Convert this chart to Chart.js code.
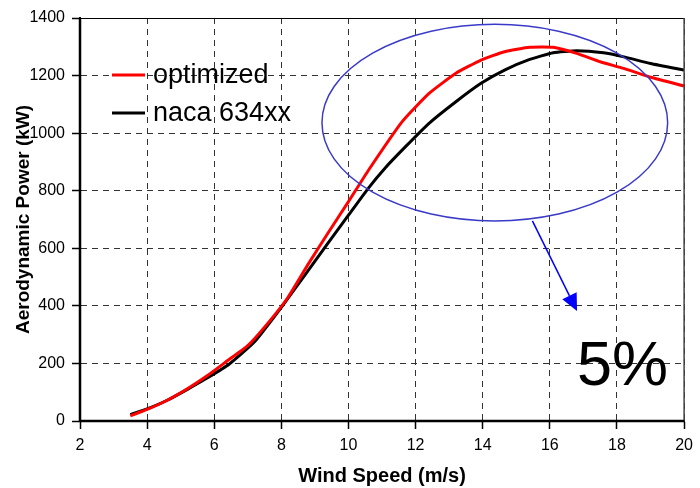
<!DOCTYPE html>
<html lang="en">
<head>
  <meta charset="UTF-8">
  <title>Aerodynamic Power vs Wind Speed</title>
  <script src="https://cdn.jsdelivr.net/npm/chart.js"></script>
  <style>
    html, body { margin: 0; padding: 0; background: #fff; }
  </style>
</head>
<body>

<canvas id="myChart" width="700" height="488"></canvas>

<script>
  // curves (wind speed m/s, power kW)
  const windOpt  = [3.5, 4.0, 4.6, 5.2, 5.8, 6.4, 7.0, 7.6, 8.2, 8.8, 9.4, 10.0, 10.6, 11.6, 12.4, 13.2, 13.95, 14.65, 15.4, 16.1, 16.8, 17.5, 18.2, 19.0, 20.0];
  const powerOpt = [18, 40, 72, 112, 158, 210, 262, 340, 430, 545, 655, 762, 872, 1040, 1138, 1208, 1254, 1283, 1298, 1298, 1277, 1248, 1225, 1194, 1164];

  const windNaca  = [3.5, 4.0, 4.6, 5.2, 5.8, 6.45, 7.2, 8.0, 8.7, 9.4, 10.0, 10.6, 11.1, 11.7, 12.4, 13.2, 13.95, 14.65, 15.4, 16.1, 16.8, 17.6, 18.2, 19.0, 20.0];
  const powerNaca = [22, 42, 72, 110, 150, 198, 275, 395, 507, 620, 715, 810, 880, 953, 1034, 1109, 1173, 1219, 1256, 1279, 1286, 1279, 1265, 1242, 1219];

  const seriesNames = ['optimized', 'naca 634xx'];
  const xTicks = [2, 4, 6, 8, 10, 12, 14, 16, 18, 20];
  const yTicks = [0, 200, 400, 600, 800, 1000, 1200, 1400];

  // annotation, in data units
  const ringWind  = [9.21, 19.51];
  const ringPower = [695, 1378];
  const arrowFrom = [15.48, 695];
  const arrowTo   = [16.81, 382];
  const noteAt    = [16.81, 125];
  const noteText  = '5%';

  const FONT = '"Liberation Sans", Arial, sans-serif';

  function pairs(xs, ys) {
    return xs.map((v, i) => ({x: v, y: ys[i]}));
  }

  const extras = {
    id: 'extras',
    afterDraw(chart) {
      const ctx = chart.ctx;
      const a = chart.chartArea;
      const x = chart.scales.x, y = chart.scales.y;
      ctx.save();
      ctx.setLineDash([]);

      // frame: thick left/bottom, thin top/right
      ctx.strokeStyle = '#000';
      ctx.lineWidth = 1;
      ctx.beginPath();
      ctx.moveTo(a.left, a.top + 0.5);
      ctx.lineTo(a.right, a.top + 0.5);
      ctx.stroke();
      ctx.strokeStyle = '#444';
      ctx.lineWidth = 1.5;
      ctx.beginPath();
      ctx.moveTo(a.right, a.top);
      ctx.lineTo(a.right, a.bottom);
      ctx.stroke();
      ctx.strokeStyle = '#000';
      ctx.lineWidth = 2.5;
      ctx.beginPath();
      ctx.moveTo(a.left, a.top);
      ctx.lineTo(a.left, a.bottom);
      ctx.lineTo(a.right, a.bottom);
      ctx.stroke();

      // legend inside plot
      chart.data.datasets.forEach((ds, i) => {
        const ly = a.top + 57 + i * 38;
        ctx.strokeStyle = ds.borderColor;
        ctx.lineWidth = 3;
        ctx.beginPath();
        ctx.moveTo(a.left + 32, ly);
        ctx.lineTo(a.left + 65, ly);
        ctx.stroke();
        ctx.fillStyle = '#000';
        ctx.font = '27px ' + FONT;
        ctx.textBaseline = 'middle';
        ctx.textAlign = 'left';
        ctx.fillText(ds.label, a.left + 73, ly + 1);
      });

      // ellipse
      const x0 = x.getPixelForValue(ringWind[0]), x1 = x.getPixelForValue(ringWind[1]);
      const y0 = y.getPixelForValue(ringPower[1]), y1 = y.getPixelForValue(ringPower[0]);
      ctx.strokeStyle = '#3a3ac8';
      ctx.lineWidth = 1.5;
      ctx.beginPath();
      ctx.ellipse((x0 + x1) / 2, (y0 + y1) / 2, (x1 - x0) / 2, (y1 - y0) / 2, 0, 0, Math.PI * 2);
      ctx.stroke();

      // arrow
      const ax = x.getPixelForValue(arrowFrom[0]), ay = y.getPixelForValue(arrowFrom[1]);
      const bx = x.getPixelForValue(arrowTo[0]),   by = y.getPixelForValue(arrowTo[1]);
      const ang = Math.atan2(by - ay, bx - ax);
      const hl = 17, hw = 8;
      const c = Math.cos(ang), s = Math.sin(ang);
      ctx.strokeStyle = '#0000ff';
      ctx.fillStyle = '#0000ff';
      ctx.lineWidth = 1.5;
      ctx.beginPath();
      ctx.moveTo(ax, ay);
      ctx.lineTo(bx - hl * c, by - hl * s);
      ctx.stroke();
      ctx.beginPath();
      ctx.moveTo(bx, by);
      ctx.lineTo(bx - hl * c + hw * s, by - hl * s - hw * c);
      ctx.lineTo(bx - hl * c - hw * s, by - hl * s + hw * c);
      ctx.closePath();
      ctx.fill();

      // 5% note
      ctx.fillStyle = '#000';
      ctx.font = '63px ' + FONT;
      ctx.textAlign = 'left';
      ctx.textBaseline = 'alphabetic';
      ctx.fillText(noteText, x.getPixelForValue(noteAt[0]), y.getPixelForValue(noteAt[1]));

      ctx.restore();
    }
  };

  const gridOpts = {
    color: '#333',
    lineWidth: 1,
    drawTicks: true,
    tickLength: 8,
    tickColor: '#000',
    tickWidth: 1.5,
    tickBorderDash: []
  };
  const borderOpts = {display: true, color: '#000', width: 2, dash: [6, 5]};
  const tickFont = {family: FONT, size: 16};

  const config = {
    type: 'line',
    data: {
      datasets: [
        {label: seriesNames[0], data: pairs(windOpt, powerOpt), borderColor: '#ff0000', borderWidth: 3, pointRadius: 0, tension: 0.15, fill: false},
        {label: seriesNames[1], data: pairs(windNaca, powerNaca), borderColor: '#000000', borderWidth: 3, pointRadius: 0, tension: 0.15, fill: false}
      ]
    },
    options: {
      responsive: false,
      animation: false,
      layout: {padding: {top: 18, right: 12, left: 0, bottom: 0}},
      plugins: {legend: {display: false}, tooltip: {enabled: false}},
      scales: {
        x: {
          type: 'linear',
          min: 2, max: 20,
          afterFit(s) { s.height = 67; },
          afterBuildTicks(s) { s.ticks = xTicks.map(v => ({value: v})); },
          grid: gridOpts,
          border: borderOpts,
          ticks: {color: '#000', padding: 7, font: tickFont, callback: v => String(v)},
          title: {display: true, text: 'Wind Speed (m/s)', color: '#000', padding: {top: 0, bottom: 0}, font: {family: FONT, size: 20, weight: 'bold'}}
        },
        y: {
          min: 0, max: 1400,
          afterFit(s) { s.width = 80; },
          afterBuildTicks(s) { s.ticks = yTicks.map(v => ({value: v})); },
          grid: gridOpts,
          border: borderOpts,
          ticks: {color: '#000', padding: 7, font: tickFont, callback: v => String(v)},
          title: {display: true, text: 'Aerodynamic Power (kW)', color: '#000', padding: {top: 12, bottom: 0}, font: {family: FONT, size: 19, weight: 'bold'}}
        }
      }
    },
    plugins: [extras]
  };

  const chart = new Chart(document.getElementById('myChart'), config);
</script>
</body>
</html>
